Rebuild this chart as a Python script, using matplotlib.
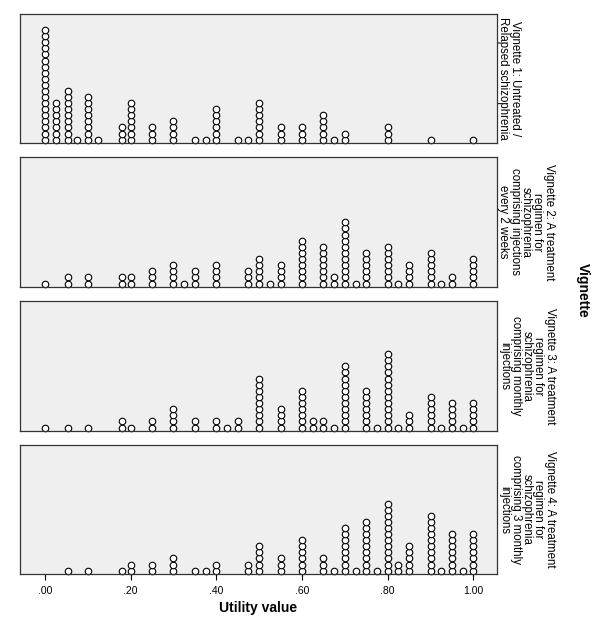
import matplotlib
matplotlib.use("Agg")
import matplotlib.pyplot as plt

plt.rcParams['font.family'] = ['Liberation Sans', 'DejaVu Sans']

# utility values (binned) and number of respondents per bin, one pair per vignette
vals1 = [0.00, 0.025, 0.055, 0.075, 0.10, 0.125, 0.18, 0.20, 0.25, 0.30, 0.35, 0.375,
         0.40, 0.45, 0.475, 0.50, 0.55, 0.60, 0.65, 0.675, 0.70, 0.80, 0.90, 1.00]
counts1 = [19, 7, 9, 1, 8, 1, 3, 7, 3, 4, 1, 1,
           6, 1, 1, 7, 3, 3, 5, 1, 2, 3, 1, 1]

vals2 = [0.00, 0.055, 0.10, 0.18, 0.20, 0.25, 0.30, 0.325, 0.35, 0.40, 0.475, 0.50, 0.525,
         0.55, 0.60, 0.65, 0.675, 0.70, 0.725, 0.75, 0.80, 0.825, 0.85, 0.90, 0.925, 0.95, 1.00]
counts2 = [1, 2, 2, 2, 2, 3, 4, 1, 3, 4, 3, 5, 1,
           4, 8, 7, 2, 11, 1, 6, 7, 1, 4, 6, 1, 2, 5]

vals3 = [0.00, 0.055, 0.10, 0.18, 0.20, 0.25, 0.30, 0.35, 0.40, 0.425, 0.45, 0.50, 0.55, 0.60,
         0.625, 0.65, 0.675, 0.70, 0.75, 0.775, 0.80, 0.825, 0.85, 0.90, 0.925, 0.95, 0.975, 1.00]
counts3 = [1, 1, 1, 2, 1, 2, 4, 2, 2, 1, 2, 9, 4, 7,
           2, 2, 1, 11, 7, 1, 13, 1, 3, 6, 1, 5, 1, 5]

vals4 = [0.055, 0.10, 0.18, 0.20, 0.25, 0.30, 0.35, 0.375, 0.40, 0.475, 0.50, 0.55, 0.60, 0.65,
         0.675, 0.70, 0.725, 0.75, 0.775, 0.80, 0.825, 0.85, 0.90, 0.925, 0.95, 0.975, 1.00]
counts4 = [1, 1, 1, 2, 2, 3, 1, 1, 2, 2, 5, 3, 6, 3,
           1, 8, 1, 9, 1, 12, 2, 5, 10, 1, 7, 1, 7]

labels = ["Vignette 1: Untreated /\nRelapsed schizophrenia",
          "Vignette 2: A treatment\nregimen for\nschizophrenia\ncomprising injections\nevery 2 weeks",
          "Vignette 3: A treatment\nregimen for\nschizophrenia\ncomprising monthly\ninjections",
          "Vignette 4: A treatment\nregimen for\nschizophrenia\ncomprising 3 monthly\ninjections"]

tick_vals = [0.0, 0.2, 0.4, 0.6, 0.8, 1.0]
tick_labels = [".00", ".20", ".40", ".60", ".80", "1.00"]

panels = [(vals1, counts1), (vals2, counts2), (vals3, counts3), (vals4, counts4)]

W, H = 600, 636
fig = plt.figure(figsize=(6, 6.36), dpi=100)

# panel pixel extents (top, bottom)
edges = [(14, 143), (157, 287), (301, 431), (445, 574)]
left, right = 20, 497
label_x = [509, 526, 527, 527]

for k, ((vals, counts), (top, bot)) in enumerate(zip(panels, edges)):
    ax = fig.add_axes([left / W, 1 - bot / H, (right - left) / W, (bot - top) / H])
    ax.set_facecolor('#efefef')
    xs, ys = [], []
    for v, c in zip(vals, counts):
        for i in range(c):
            xs.append(v)
            ys.append(i + 0.55)
    ax.plot(xs, ys, 'o', ls='none', ms=4.7, mfc='white', mec='black', mew=0.8, clip_on=False)
    ax.set_xlim(-0.058, 1.055)
    ax.set_ylim(0, 21.2)
    ax.set_yticks([])
    for s in ax.spines.values():
        s.set_color('#333333')
        s.set_linewidth(0.9)
    ax.set_xticks(tick_vals)
    if k == 3:
        ax.set_xticklabels(tick_labels, fontsize=7.5)
        ax.tick_params(axis='x', length=4, width=0.8, pad=5)
        ax.set_xlabel("Utility value", fontsize=10, fontweight='bold', labelpad=3)
    else:
        ax.tick_params(axis='x', length=0, labelbottom=False)
    fig.text(label_x[k] / W, 1 - (top + bot) / 2 / H, labels[k], rotation=270,
             ha='center', va='center', fontsize=8.3, multialignment='center',
             linespacing=0.93)

fig.text(583 / W, 1 - 290 / H, "Vignette", rotation=270, ha='center', va='center',
         fontsize=10, fontweight='bold')

fig.savefig("out.png", dpi=100)
